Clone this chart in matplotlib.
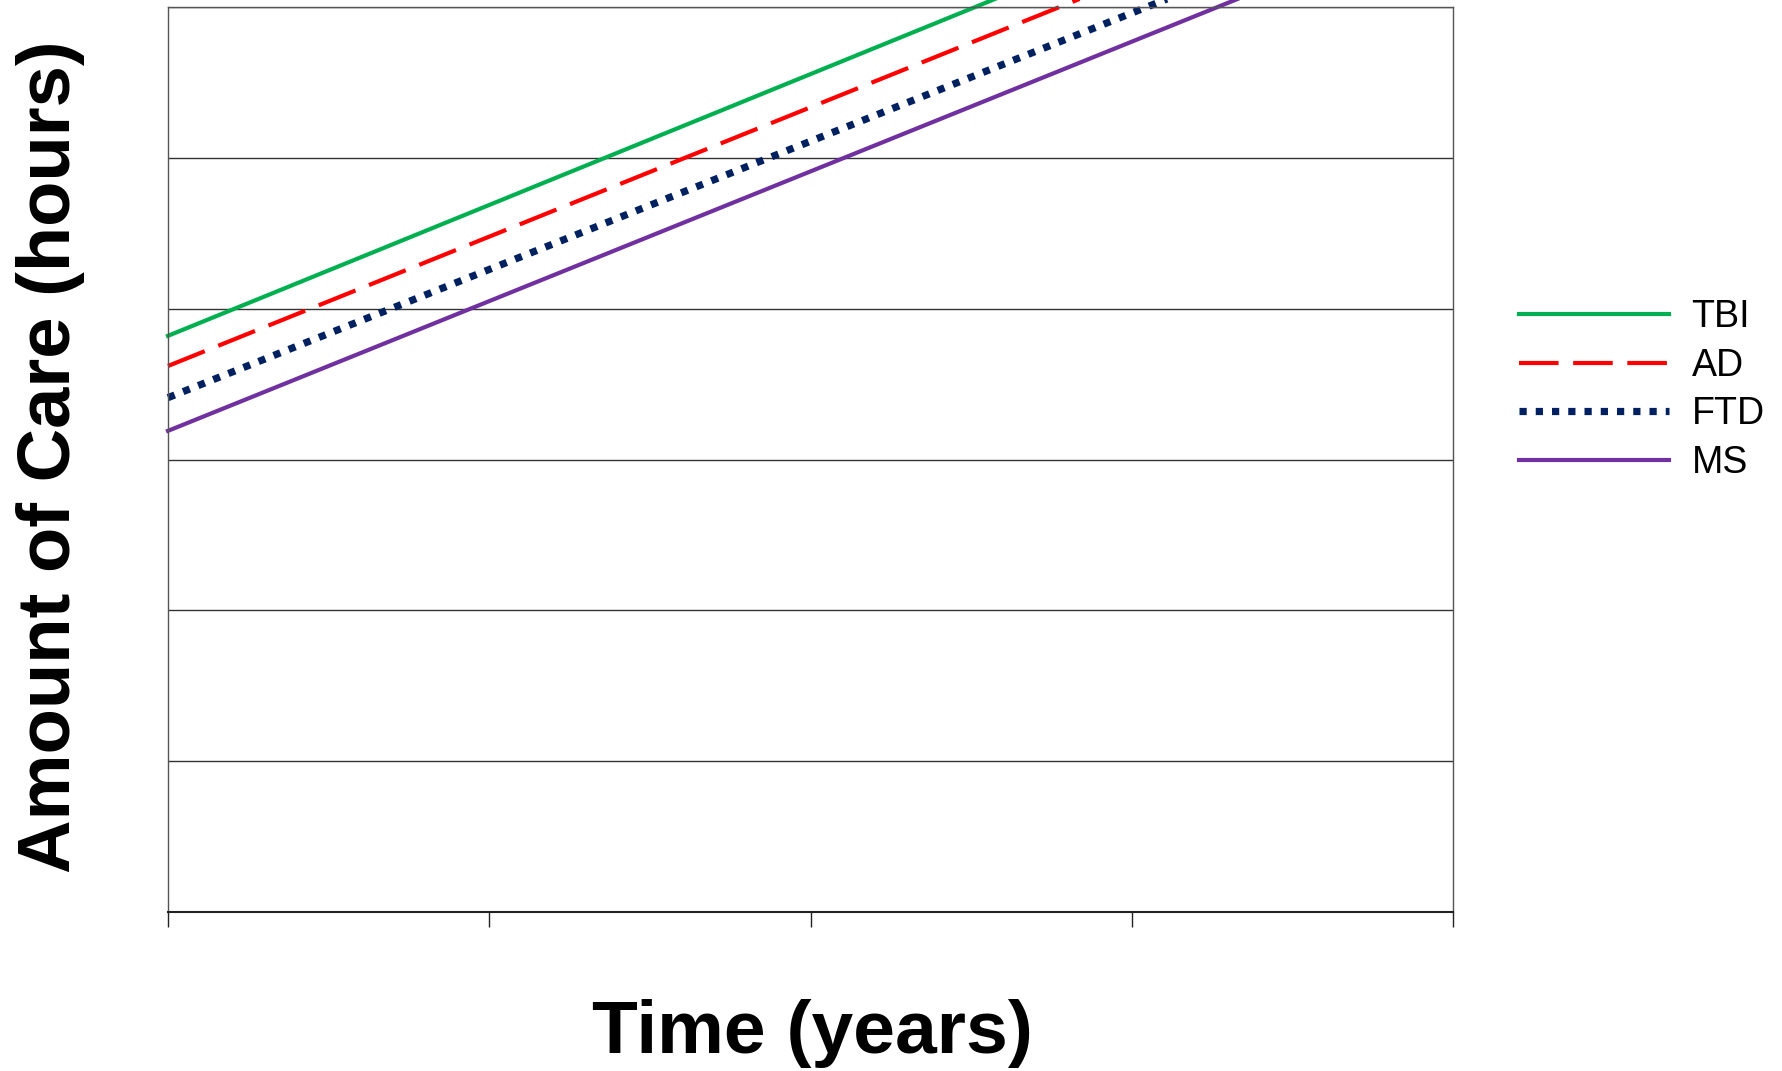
import numpy as np
import matplotlib
matplotlib.use("Agg")
import matplotlib.pyplot as plt

plt.rcParams['font.family'] = ['Liberation Sans', 'DejaVu Sans']

# data: straight lines from x=0 to x=4, y grid 0..6
x_vals = [0, 4]
tbi = [3.82, 7.29]
ad = [3.62, 7.05]
ftd = [3.41, 6.81]
ms = [3.19, 6.63]
labels = ['TBI', 'AD', 'FTD', 'MS']
colors = ['#00B050', '#FF0000', '#002060', '#7030A0']

W, H = 1783, 1071
fig = plt.figure(figsize=(W/100, H/100), dpi=100)
ax = fig.add_axes([168/W, 1-912/H, (1453-168)/W, (912-7)/H])

ax.plot(x_vals, tbi, color=colors[0], lw=3.0, clip_on=False, label=labels[0])
ax.plot(x_vals, ad, color=colors[1], lw=3.0, ls=(0, (9.5, 3.5)), clip_on=False, label=labels[1])
ax.plot(x_vals, ftd, color=colors[2], lw=5.2, ls=(0, (1, 1.25)), clip_on=False, label=labels[2])
ax.plot(x_vals, ms, color=colors[3], lw=3.0, clip_on=False, label=labels[3])

ax.set_xlim(0, 4)
ax.set_ylim(0, 6)
ax.set_xticks([0, 1, 2, 3, 4])
ax.set_xticklabels([])
ax.set_yticks(np.arange(0, 7))
ax.set_yticklabels([])
ax.tick_params(axis='y', length=0)
ax.tick_params(axis='x', direction='out', length=11, width=1, color='#222222')
ax.grid(axis='y', color='#333333', lw=1)
ax.set_axisbelow(True)
for s in ax.spines.values():
    s.set_color('#555555')
    s.set_linewidth(1)
ax.spines['bottom'].set_color('#222222')
ax.spines['bottom'].set_linewidth(1.5)

fig.text(51/W, 1-457/H, 'Amount of Care (hours)', rotation=90, ha='center', va='center',
         fontsize=53.5, fontweight='bold')
fig.text(812/W, 1-1034/H, 'Time (years)', ha='center', va='center',
         fontsize=54, fontweight='bold')

leg = ax.legend(loc='center left', bbox_to_anchor=(1519/W, 1-390/H), bbox_transform=fig.transFigure,
                frameon=False, fontsize=27, handlelength=4.0, handletextpad=0.6,
                labelspacing=0.34, borderpad=0, borderaxespad=0)

fig.savefig('out.png', dpi=100)
